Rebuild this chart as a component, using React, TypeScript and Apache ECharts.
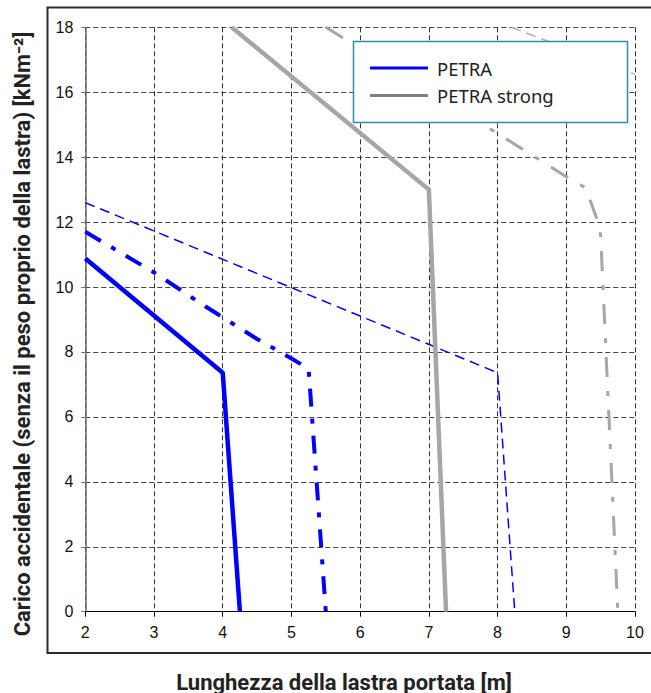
import React, { useEffect, useRef } from "react";
import * as echarts from "echarts";

// x: span length [m], y: live load [kN/m2]
const petraX = [2, 4, 4.25];
const petraY = [10.88, 7.36, 0];

const petraDashDotX = [2, 3, 3.75, 4.5, 5, 5.25, 5.5];
const petraDashDotY = [11.7, 10.45, 9.4, 8.4, 7.8, 7.48, 0];

const petraDashX = [2, 8, 8.25];
const petraDashY = [12.6, 7.36, 0];

const strongX = [4.13, 7, 7.25];
const strongY = [18, 13, 0];

const strongDashDotX = [5.5, 7.84, 9.0, 9.27, 9.36, 9.45, 9.5, 9.75];
const strongDashDotY = [18, 14.94, 13.4, 13.07, 12.6, 12.07, 11.6, 0];

const strongDashX = [8.2, 10];
const strongDashY = [18, 16.55];

const legendNames = ["PETRA", "PETRA strong"];
const xTitle = "Lunghezza della lastra portata [m]";
const yTitle = "Carico accidentale (senza il peso proprio della lastra) [kNm\u207B\u00B2]";

const pairs = (xs: number[], ys: number[]) => xs.map((x, i) => [x, ys[i]]);

export default function App() {
  const ref = useRef<HTMLDivElement>(null);
  useEffect(() => {
    document.body.style.margin = "0";
    if (!ref.current) return;
    const chart = echarts.init(ref.current, undefined, { renderer: "svg" });
    const blue = "#0000ff";
    const gray = "#a6a6a6";
    const tickFont = { fontFamily: "'Liberation Sans', Arial, sans-serif", fontSize: 16, color: "#111" };
    chart.setOption({
      animation: false,
      backgroundColor: "#fff",
      grid: { left: 85.3, right: 16, top: 27.3, bottom: 81.3, containLabel: false },
      xAxis: {
        type: "value",
        min: 2,
        max: 10,
        interval: 1,
        axisLine: { show: true, lineStyle: { color: "#000", width: 1 } },
        axisTick: { show: true, length: 5, lineStyle: { color: "#000" } },
        axisLabel: { ...tickFont, margin: 13 },
        splitLine: { show: true, lineStyle: { color: "#333", width: 1, type: [5, 3] } },
      },
      yAxis: {
        type: "value",
        min: 0,
        max: 18,
        interval: 2,
        axisLine: { show: true, onZero: false, lineStyle: { color: "#6e6e6e", width: 1.5 } },
        axisTick: { show: true, length: 4, lineStyle: { color: "#6e6e6e" } },
        axisLabel: { ...tickFont, margin: 12 },
        splitLine: { show: true, lineStyle: { color: "#444", width: 1, type: [5, 3] } },
      },
      legend: {
        orient: "vertical",
        left: 365,
        top: 53,
        z: 6,
        selectedMode: false,
        icon: "rect",
        itemWidth: 58,
        itemHeight: 3,
        itemGap: 7.4,
        textStyle: {
          fontFamily: "'Noto Sans', sans-serif",
          fontSize: 18.5,
          lineHeight: 20,
          color: "#222",
          padding: [0, 0, 0, 4],
        },
        data: [
          { name: legendNames[0], itemStyle: { color: blue } },
          { name: legendNames[1], itemStyle: { color: "#7f7f7f" } },
        ],
      },
      graphic: [
        {
          type: "rect",
          z: 0,
          silent: true,
          shape: { x: 47.5, y: 7.5, width: 620, height: 645.5 },
          style: { fill: "none", stroke: "#2a2a2a", lineWidth: 2 },
        },
        {
          type: "rect",
          z: 5,
          silent: true,
          shape: { x: 353.5, y: 41.5, width: 274, height: 81 },
          style: { fill: "#fff", stroke: "#2b8db0", lineWidth: 1.5 },
        },
        {
          type: "text",
          x: 344,
          y: 682,
          silent: true,
          style: {
            text: xTitle,
            font: "bold 22px Roboto, 'Noto Sans', sans-serif",
            fill: "#222",
            align: "center",
            verticalAlign: "middle",
          },
        },
        {
          type: "text",
          x: 22,
          y: 334,
          rotation: Math.PI / 2,
          silent: true,
          style: {
            text: yTitle,
            font: "bold 22px Roboto, 'Noto Sans', sans-serif",
            fill: "#222",
            align: "center",
            verticalAlign: "middle",
          },
        },
      ],
      series: [
        {
          name: legendNames[0],
          type: "line",
          data: pairs(petraX, petraY),
          showSymbol: false,
          color: blue,
          lineStyle: { color: blue, width: 4.5 },
          z: 3,
        },
        {
          name: "PETRA dash-dot",
          type: "line",
          data: pairs(petraDashDotX, petraDashDotY),
          showSymbol: false,
          color: blue,
          lineStyle: { color: blue, width: 4, type: [18, 12, 5, 12] },
          z: 3,
        },
        {
          name: "PETRA dashed",
          type: "line",
          data: pairs(petraDashX, petraDashY),
          showSymbol: false,
          color: blue,
          lineStyle: { color: blue, width: 1.5, type: [10, 6] },
          z: 3,
        },
        {
          name: legendNames[1],
          type: "line",
          data: pairs(strongX, strongY),
          showSymbol: false,
          color: gray,
          lineStyle: { color: gray, width: 4.5 },
          z: 3,
        },
        {
          name: "PETRA strong dash-dot",
          type: "line",
          data: pairs(strongDashDotX, strongDashDotY),
          showSymbol: false,
          color: gray,
          lineStyle: { color: gray, width: 3, type: [20, 14, 5, 14] },
          z: 3,
        },
        {
          name: "PETRA strong dashed",
          type: "line",
          data: pairs(strongDashX, strongDashY),
          showSymbol: false,
          color: "#b0b0b0",
          lineStyle: { color: "#b0b0b0", width: 1.5, type: [10, 6] },
          z: 3,
        },
      ],
    });
    return () => chart.dispose();
  }, []);
  return <div ref={ref} style={{ width: 651, height: 693 }} />;
}
